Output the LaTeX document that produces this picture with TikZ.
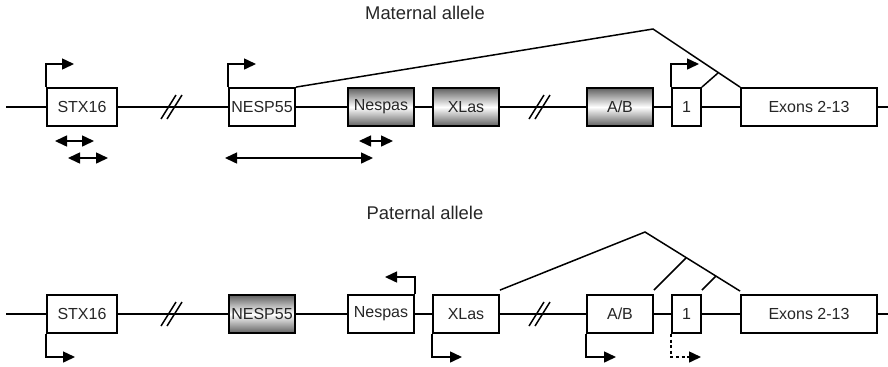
\documentclass[tikz,border=0pt]{standalone}
\usepackage{fontspec}
\setmainfont{Liberation Sans}
\usetikzlibrary{arrows.meta, positioning}

\begin{document}
\begin{tikzpicture}[x=0.5pt, y=-0.5pt, line width=0.75pt,
    >={Triangle[length=6pt, width=5.5pt]},
    gene/.style={draw, line width=0.9pt, minimum height=19pt, inner sep=0pt,
                 text=black!85, font=\fontsize{8}{9}\selectfont},
    allele/.style={text=black!85, font=\fontsize{9.2}{11}\selectfont},
    weak/.style={dash pattern=on 1.5pt off 1.3pt}]
  \useasboundingbox (0,0) rectangle (888,366);
  % two alleles, same genes, other boxes shaded
  \foreach \r/\y/\cn/\cg in {m/107/white/black!62, p/314/black!62/white}{
    \coordinate (\r0) at (6,\y);
    \coordinate (\r9) at (888,\y);
    \draw (\r0) -- (\r9);
    \foreach \x in {161, 167, 529, 535}
      \draw (\x,\y+12) -- ++(15,-24);
    \foreach \n/\x/\w/\c/\t in {stx/82/35/white/STX16, nesp/262/33/\cn/NESP55,
        nespas/381/33/\cg/Nespas, xlas/466/33/\cg/XLas, ab/620/33/\cg/{A/B},
        one/686.5/14.5/white/1, exon/809/68/white/Exons 2-13}
      \node[gene, minimum width=\w pt, top color=\c, bottom color=\c,
            middle color=white] (\r\n) at (\x,\y) {\t};
  }
  \node[allele] (mtitle) at (425,13) {Maternal allele};
  \node[allele] (ptitle) at (425,213) {Paternal allele};

  % maternal promoters and splicing
  \coordinate (mstxp) at (74,64);
  \coordinate (mnespp) at (256,64);
  \coordinate (monep) at (699,64);
  \draw[->] (mstx.north west) |- (mstxp);
  \draw[->] (mnesp.north west) |- (mnespp);
  \draw[->] (mone.north west) |- (monep);
  \coordinate (mtop) at (653,29);
  \coordinate (mjoin) at (718,73);
  \draw (mnesp.north east) -- (mtop) -- (mexon.north west);
  \draw (mone.north east) -- (mjoin);
  \foreach \i/\a/\b/\y in {1/55/94/141, 2/68/108/158, 3/225/373/158, 4/359/393/141}{
    \coordinate (dl\i) at (\a,\y);
    \coordinate (dr\i) at (\b,\y);
    \draw[<->] (dl\i) -- (dr\i);
  }

  % paternal promoters and splicing
  \coordinate (pstxp) at (75,357);
  \coordinate (pxlasp) at (462,357);
  \coordinate (pabp) at (616,357);
  \coordinate (ponep) at (701,357);
  \coordinate (pnespasp) at (385,277);
  \draw[->] (pstx.south west) |- (pstxp);
  \draw[->] (pxlas.south west) |- (pxlasp);
  \draw[->] (pab.south west) |- (pabp);
  \draw[->, weak] (pone.south west) |- (ponep);
  \draw[->] (pnespas.north east) |- (pnespasp);
  \coordinate (ptop) at (645,232);
  \coordinate (pjoinab) at (686,258);
  \coordinate (pjoinone) at (716,276);
  \draw ([yshift=2pt]pxlas.north east) -- (ptop) -- ([yshift=1.5pt]pexon.north west);
  \draw ([yshift=2pt]pab.north east) -- (pjoinab);
  \draw ([yshift=2pt]pone.north east) -- (pjoinone);
\end{tikzpicture}
\end{document}
